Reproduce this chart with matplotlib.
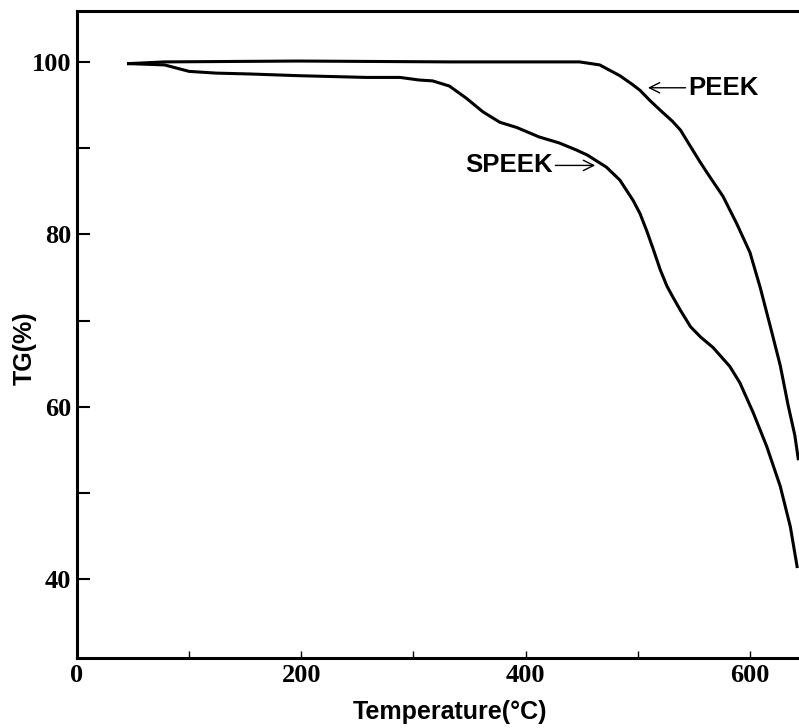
import numpy as np
import matplotlib
matplotlib.use("Agg")
import matplotlib.pyplot as plt
from matplotlib.ticker import MultipleLocator

# PEEK curve (temperature, TG %)
peek_t = [46, 78, 198, 332, 448, 466, 484, 495, 502, 511, 520, 531, 538, 546, 555, 562,
          576, 588, 600, 609, 618, 627, 634, 640, 643]
peek_tg = [99.8, 100.0, 100.1, 100.0, 100.0, 99.65, 98.4, 97.4, 96.7, 95.5, 94.4, 93.1, 92.1, 90.4,
           88.5, 87.1, 84.4, 81.3, 77.9, 73.9, 69.4, 64.8, 60.2, 56.7, 54.0]

# SPEEK curve
speek_t = [46, 78, 100, 124, 154, 198, 258, 288, 305, 317, 332, 347, 362, 377, 392,
           412, 430, 445, 455, 472, 484, 496, 502, 508, 514, 520, 526, 531, 538, 547, 556,
           567, 582, 591, 603, 615, 627, 636, 642]
speek_tg = [99.8, 99.65, 98.9, 98.7, 98.6, 98.4, 98.2, 98.2, 97.9, 97.8, 97.2, 95.8, 94.2, 93.0, 92.4,
            91.3, 90.6, 89.8, 89.2, 87.8, 86.3, 83.9, 82.4, 80.4, 78.2, 75.9, 74.0, 72.8, 71.2, 69.3, 68.1,
            66.9, 64.7, 62.8, 59.3, 55.4, 50.8, 46.1, 41.5]

x_ticks = [0, 200, 400, 600]
y_ticks = [40, 60, 80, 100]

sans = "Liberation Sans"
serif = "Liberation Serif"

fig = plt.figure(figsize=(7.99, 7.28), dpi=100)
ax = fig.add_axes([77 / 799, 1 - 658 / 728, 1 - 77 / 799, (658 - 11) / 728])

ax.plot(peek_t, peek_tg, color="black", lw=2.2, solid_joinstyle="round")
ax.plot(speek_t, speek_tg, color="black", lw=2.2, solid_joinstyle="round")

ax.set_xlim(0, 643.7)
ax.set_ylim(30.9, 105.9)

ax.spines["right"].set_visible(False)
for s in ["left", "bottom", "top"]:
    ax.spines[s].set_linewidth(2.2)

ax.set_xticks(x_ticks)
ax.set_yticks(y_ticks)
ax.xaxis.set_minor_locator(MultipleLocator(100))
ax.yaxis.set_minor_locator(MultipleLocator(10))
ax.tick_params(axis="x", which="both", direction="in", length=5, width=1, top=False, pad=4)
ax.tick_params(axis="y", which="both", direction="in", length=9, width=1.5, right=False, pad=4)

for lab in ax.get_xticklabels() + ax.get_yticklabels():
    lab.set_fontfamily(serif)
    lab.set_fontweight("bold")
    lab.set_fontsize(19)

ax.set_xlabel("Temperature(°C)", fontsize=18, fontweight="bold", family=sans)
ax.xaxis.set_label_coords(0.517, -0.065)
ax.set_ylabel("TG(%)", fontsize=18, fontweight="bold", family=sans)
ax.yaxis.set_label_coords(-0.072, 0.479)
ax.yaxis.label.set_va("center")

arrow = dict(arrowstyle="->", lw=1, color="black", shrinkA=0, shrinkB=0)
ax.annotate("PEEK", xy=(509, 97.0), xytext=(545, 97.0), ha="left", va="center",
            fontsize=18.5, fontweight="bold", family=sans, arrowprops=arrow)
ax.annotate("SPEEK", xy=(462, 88.0), xytext=(424, 88.0), ha="right", va="center",
            fontsize=18.5, fontweight="bold", family=sans, arrowprops=arrow)

fig.savefig("out.png", dpi=100)
